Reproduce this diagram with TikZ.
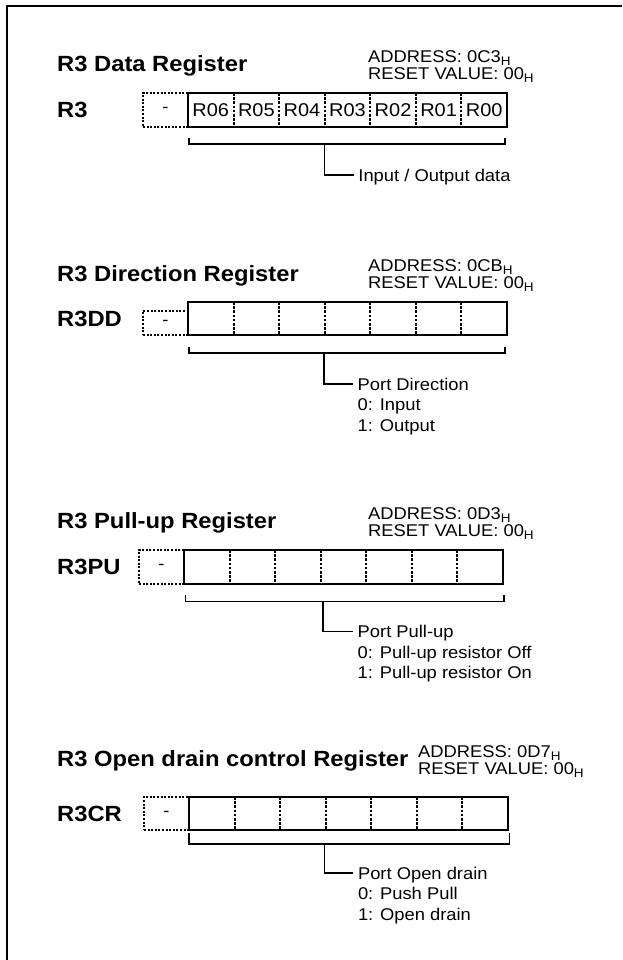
\documentclass[tikz,border=0pt]{standalone}
\usepackage{fontspec}
\setmainfont{Liberation Sans}[FakeStretch=1.08]
\usepackage{tikz}
\usetikzlibrary{positioning,calc}
\newcommand{\subH}{\raisebox{-3.2pt}[0pt][0pt]{\fontsize{12.5}{12.5}\selectfont H}}
\tikzset{
  frame/.style={line width=2.2pt},
  regtitle/.style={anchor=base west,inner sep=0pt,font=\fontsize{22}{26}\selectfont\bfseries},
  regname/.style={anchor=west,inner sep=0pt,font=\fontsize{22}{26}\selectfont\bfseries},
  addr/.style={anchor=north west,inner sep=0pt,align=left,font=\fontsize{17}{17.5}\selectfont},
  field/.style={draw,line width=2.8pt,anchor=north west,minimum width=319pt,
    minimum height=34pt,inner sep=0pt,outer sep=0pt},
  spare/.style={draw,line width=1.4pt,dash pattern=on 2pt off 1.6pt,minimum width=45pt,
    minimum height=34pt,inner sep=0pt,outer sep=0pt,font=\fontsize{17}{20}\selectfont},
  bitcell/.style={inner sep=0pt,font=\fontsize{18.5}{20}\selectfont},
  divider/.style={line width=2pt,dash pattern=on 2.6pt off 1.6pt},
  bracket/.style={line width=1.1pt},
  note/.style={anchor=north west,inner sep=0pt,align=left,font=\fontsize{17}{20.5}\selectfont}
}
\begin{document}
\begin{tikzpicture}[x=1pt,y=-1pt]
\useasboundingbox (0,0) rectangle (622,960);
\draw[frame] (7,960) -- (7,6) -- (622,6);

% R3 data
\node[field] (f1) at (188,93) {};
\node[spare,left=0pt of f1] (s1) {-};
\node[regname] (n1) at (57,110) {R3};
\node[regtitle] (t1) at (57,72) {R3 Data Register};
\node[addr] (a1) at (368,50) {ADDRESS: 0C3\subH\\RESET VALUE: 00\subH};
\foreach \bit [count=\i] in {R06,R05,R04,R03,R02,R01,R00}
  \node[bitcell] (f1b\i) at ($(f1.west)+(\i*45.57-22.79,0)$) {\bit};
\foreach \i in {1,...,6}
  \draw[divider] ($(f1.north west)+(\i*45.57,0)$) -- ($(f1.south west)+(\i*45.57,0)$);
\draw[bracket] ($(f1.south west)+(1,11)$) -- ++(0,6) -- ($(f1.south east)+(-2,17)$) -- ++(0,-6);
\coordinate (j1) at ($(f1.south west)+(136.7,17)$);
\coordinate (k1) at ($(j1)+(29,31)$);
\draw[bracket] (j1) |- (k1);
\node[note] (m1) at ($(k1)+(4.5,-6.5)$) {Input / Output data};

% R3 direction
\node[field,minimum height=33pt] (f2) at (188,302) {};
\node[spare,minimum height=24pt,anchor=south east] (s2) at (f2.south west) {-};
\node[regname] (n2) at (57,318.5) {R3DD};
\node[regtitle] (t2) at (57,281.5) {R3 Direction Register};
\node[addr] (a2) at (368,259) {ADDRESS: 0CB\subH\\RESET VALUE: 00\subH};
\foreach \i in {1,...,6}
  \draw[divider] ($(f2.north west)+(\i*45.57,0)$) -- ($(f2.south west)+(\i*45.57,0)$);
\draw[bracket] ($(f2.south west)+(1,12)$) -- ++(0,6) -- ($(f2.south east)+(-2,18)$) -- ++(0,-6);
\coordinate (j2) at ($(f2.south west)+(136,18)$);
\coordinate (k2) at ($(j2)+(29,31)$);
\draw[bracket] (j2) |- (k2);
\node[note] (m2) at ($(k2)+(4.5,-6.5)$) {Port Direction\\0: Input\\1: Output};

% R3 pull-up
\node[field] (f3) at (184,550) {};
\node[spare,left=0pt of f3] (s3) {-};
\node[regname] (n3) at (57,567) {R3PU};
\node[regtitle] (t3) at (57,528.5) {R3 Pull-up Register};
\node[addr] (a3) at (368,507) {ADDRESS: 0D3\subH\\RESET VALUE: 00\subH};
\foreach \i in {1,...,6}
  \draw[divider] ($(f3.north west)+(\i*45.57,0)$) -- ($(f3.south west)+(\i*45.57,0)$);
\draw[bracket] ($(f3.south west)+(1.5,11)$) -- ++(0,6.7) -- ($(f3.south east)+(1,17.7)$) -- ++(0,-6.7);
\coordinate (j3) at ($(f3.south west)+(139,17.7)$);
\coordinate (k3) at ($(j3)+(30,30)$);
\draw[bracket] (j3) |- (k3);
\node[note] (m3) at ($(k3)+(4.5,-6.5)$) {Port Pull-up\\0: Pull-up resistor Off\\1: Pull-up resistor On};

% R3 open drain
\node[field,minimum height=33pt] (f4) at (189,797) {};
\node[spare,minimum height=33pt,left=0pt of f4] (s4) {-};
\node[regname] (n4) at (57,813.5) {R3CR};
\node[regtitle] (t4) at (57,766) {R3 Open drain control Register};
\node[addr] (a4) at (418,745) {ADDRESS: 0D7\subH\\RESET VALUE: 00\subH};
\foreach \i in {1,...,6}
  \draw[divider] ($(f4.north west)+(\i*45.57,0)$) -- ($(f4.south west)+(\i*45.57,0)$);
\draw[bracket] ($(f4.south west)+(0,3)$) -- ++(0,11) -- ($(f4.south east)+(1.5,14)$) -- ++(0,-11);
\coordinate (j4) at ($(f4.south west)+(135.3,14)$);
\coordinate (k4) at ($(j4)+(29,29)$);
\draw[bracket] (j4) |- (k4);
\node[note] (m4) at ($(k4)+(4.5,-6.5)$) {Port Open drain\\0: Push Pull\\1: Open drain};
\end{tikzpicture}
\end{document}
